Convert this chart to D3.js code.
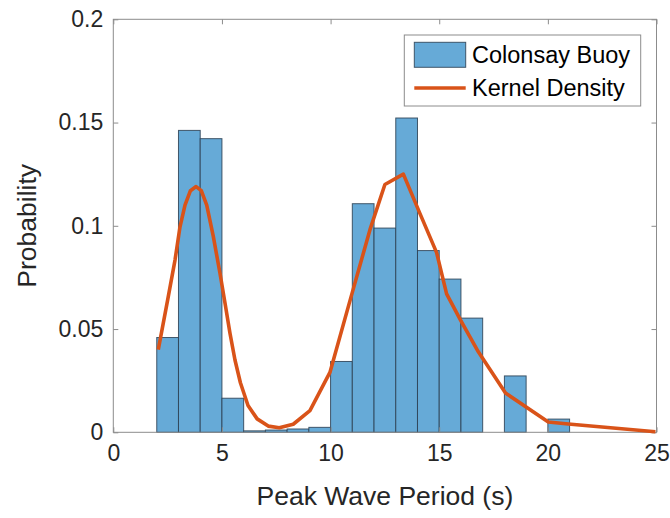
<!DOCTYPE html>
<html>
<head>
<meta charset="utf-8">
<script src="https://cdn.jsdelivr.net/npm/d3@7"></script>
<style>
  html, body { margin: 0; padding: 0; background: #fff; }
  svg { display: block; font-family: Arial, "Liberation Sans", Helvetica, sans-serif; }
</style>
</head>
<body>
<svg id="chart" width="670" height="518"></svg>
<script>
// Histogram bins (left edges, width 1 s) and probabilities
const binEdges = [2,3,4,5,6,7,8,9,10,11,12,13,14,15,16,17,18,19,20,21,22,23];
const binProb  = [0.0459,0.1462,0.1422,0.0165,0.0007,0.0011,0.0016,0.0024,0.0343,0.1107,0.0989,0.1522,0.0880,0.0742,0.0553,0,0.0273,0,0.0064,0,0,0];
// Kernel density curve
const kdX = [2.07,2.5,2.84,3.07,3.3,3.55,3.81,4.05,4.3,4.6,4.91,5.15,5.37,5.6,5.85,6.2,6.62,7.13,7.64,8.28,9.05,9.97,10.9,11.81,12.5,13.35,14.11,14.88,15.34,16.0,16.8,18.05,20.02,20.94,24.95];
const kdY = [0.040,0.064,0.0834,0.0995,0.110,0.117,0.119,0.117,0.110,0.095,0.077,0.062,0.048,0.035,0.024,0.013,0.0065,0.003,0.0022,0.0039,0.0105,0.029,0.064,0.098,0.120,0.125,0.106,0.087,0.067,0.054,0.039,0.019,0.005,0.004,0.0003];
const xTicks = [0,5,10,15,20,25];
const yTicks = [0,0.05,0.1,0.15,0.2];
const seriesNames = ["Colonsay Buoy","Kernel Density"];
const xTitle = "Peak Wave Period (s)";
const yTitle = "Probability";

const svg = d3.select("#chart");
const L = 113.3, R = 656.5, T = 19.3, B = 432.3;
const x = d3.scaleLinear().domain([0,25]).range([L,R]);
const y = d3.scaleLinear().domain([0,0.2]).range([B,T]);
const axisColor = "#262626";
const frameColor = "#8c8c8c";

// bars
const bars = binEdges.map((e,i)=>({x0:e, x1:e+1, p:binProb[i]}));
svg.append("g").selectAll("rect").data(bars).join("rect")
  .attr("x", d=>x(d.x0)).attr("y", d=>y(d.p))
  .attr("width", d=>x(d.x1)-x(d.x0)).attr("height", d=>y(0)-y(d.p))
  .attr("fill", "#66aad7").attr("stroke", "#2b3f52").attr("stroke-width", 1)
  .attr("stroke-opacity", 0.85);

// frame
svg.append("rect").attr("x",L).attr("y",T).attr("width",R-L).attr("height",B-T)
  .attr("fill","none").attr("stroke",frameColor).attr("stroke-width",1);

// axes
const tickLen = 5;
const gx = svg.append("g").attr("transform",`translate(0,${B})`)
  .call(d3.axisBottom(x).tickValues(xTicks).tickFormat(d3.format("d")).tickSizeInner(-tickLen).tickSizeOuter(0).tickPadding(12));
const gxt = svg.append("g").attr("transform",`translate(0,${T})`)
  .call(d3.axisTop(x).tickValues(xTicks).tickFormat("").tickSizeInner(-tickLen).tickSizeOuter(0));
const gy = svg.append("g").attr("transform",`translate(${L},0)`)
  .call(d3.axisLeft(y).tickValues(yTicks).tickFormat(d=>String(d)).tickSizeInner(-tickLen).tickSizeOuter(0).tickPadding(10));
const gyr = svg.append("g").attr("transform",`translate(${R},0)`)
  .call(d3.axisRight(y).tickValues(yTicks).tickFormat("").tickSizeInner(-tickLen).tickSizeOuter(0));
[gx,gxt,gy,gyr].forEach(g=>{
  g.select(".domain").remove();
  g.selectAll(".tick line").attr("stroke",frameColor);
  g.selectAll(".tick text").attr("fill",axisColor).style("font-size","23px")
    .style("font-family","Arial, 'Liberation Sans', sans-serif");
});
gx.selectAll(".tick text").attr("dy","0.71em");

// kernel density line
const line = d3.line().x((d,i)=>x(kdX[i])).y((d,i)=>y(kdY[i]));
svg.append("path").datum(kdY).attr("d",line)
  .attr("fill","none").attr("stroke","#d95319").attr("stroke-width",3.6)
  .attr("stroke-linejoin","round");

// titles
svg.append("text").attr("x",(L+R)/2).attr("y",505).attr("text-anchor","middle")
  .attr("fill",axisColor).style("font-size","26.5px").text(xTitle);
svg.append("text").attr("transform",`translate(36,${(T+B)/2}) rotate(-90)`)
  .attr("text-anchor","middle").attr("fill",axisColor).style("font-size","26.5px").text(yTitle);

// legend
const lg = svg.append("g");
lg.append("rect").attr("x",404.3).attr("y",35).attr("width",236.4).attr("height",71)
  .attr("fill","#fff").attr("stroke",frameColor).attr("stroke-width",1);
lg.append("rect").attr("x",414.3).attr("y",42.3).attr("width",51.4).attr("height",25)
  .attr("fill","#66aad7").attr("stroke","#2b3f52").attr("stroke-opacity",0.85);
lg.append("line").attr("x1",414.3).attr("x2",465.7).attr("y1",88).attr("y2",88)
  .attr("stroke","#d95319").attr("stroke-width",3.6);
lg.selectAll("text.lt").data(seriesNames).join("text").attr("class","lt")
  .attr("x",472).attr("y",(d,i)=>63+i*33).attr("fill","#000").style("font-size","23.5px")
  .text(d=>d);
</script>
</body>
</html>
